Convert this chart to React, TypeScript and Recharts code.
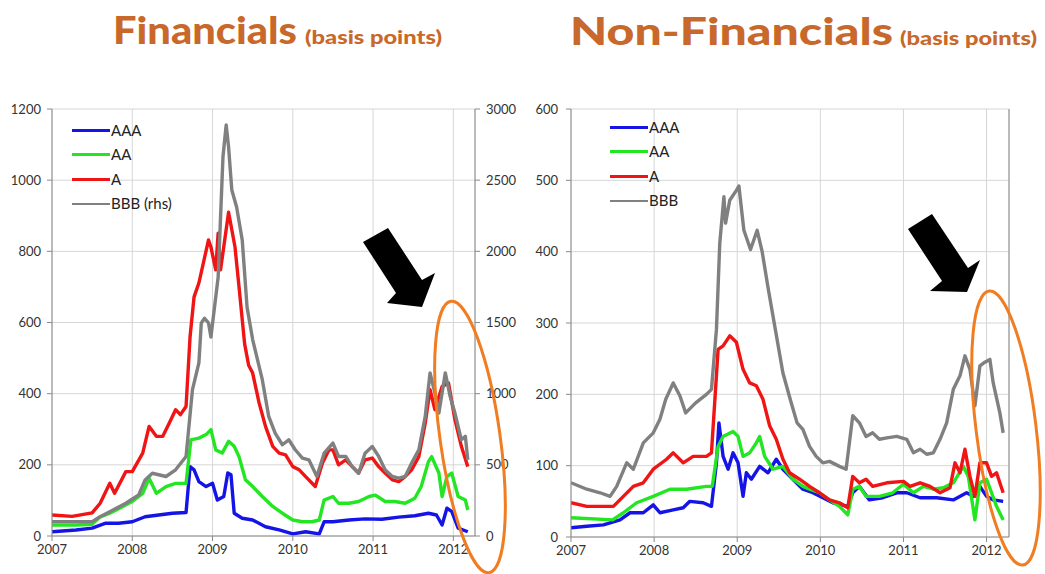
import React from 'react';
import { LineChart, Line, XAxis, YAxis, CartesianGrid, Legend } from 'recharts';

const YEARS = [2007, 2008, 2009, 2010, 2011, 2012];
const X_DOMAIN: [number, number] = [2007, 2012.27];
const FIN_LEFT_TICKS = [0, 200, 400, 600, 800, 1000, 1200];
const FIN_RIGHT_TICKS = [0, 500, 1000, 1500, 2000, 2500, 3000];
const NONFIN_TICKS = [0, 100, 200, 300, 400, 500, 600];

const LEGEND_ORDER = ['AAA', 'AA', 'A', 'BBB (rhs)', 'BBB'];
const COLORS = { AAA: '#1414e6', AA: '#22e622', A: '#f01414', BBB: '#808080' };

// Financials, [year, bp]
const FIN_AAA: [number, number][] = [
  [2007.0, 12], [2007.3, 17], [2007.5, 22], [2007.67, 36], [2007.83, 36], [2008.0, 40], [2008.16, 54],
  [2008.33, 59], [2008.5, 64], [2008.67, 66], [2008.72, 195], [2008.77, 186], [2008.83, 153], [2008.92, 139],
  [2009.0, 148], [2009.06, 101], [2009.14, 111], [2009.19, 177], [2009.23, 172], [2009.27, 64], [2009.37, 50],
  [2009.5, 45], [2009.66, 26], [2009.83, 17], [2010.0, 6], [2010.16, 12], [2010.33, 6], [2010.39, 40],
  [2010.5, 40], [2010.7, 45], [2010.9, 48], [2011.11, 47], [2011.32, 53], [2011.52, 57], [2011.69, 64],
  [2011.79, 59], [2011.86, 31], [2011.92, 78], [2011.98, 69], [2012.06, 22], [2012.18, 12],
];
const FIN_AA: [number, number][] = [
  [2007.0, 31], [2007.3, 31], [2007.5, 33], [2007.6, 54], [2007.72, 64], [2007.84, 78], [2008.0, 97],
  [2008.13, 120], [2008.21, 162], [2008.3, 120], [2008.42, 139], [2008.54, 148], [2008.67, 148], [2008.73, 270],
  [2008.83, 275], [2008.92, 285], [2008.98, 299], [2009.04, 242], [2009.12, 233], [2009.2, 266], [2009.27, 252],
  [2009.33, 223], [2009.41, 158], [2009.5, 139], [2009.62, 111], [2009.75, 83], [2009.87, 64], [2010.0, 45],
  [2010.12, 40], [2010.24, 40], [2010.33, 45], [2010.39, 101], [2010.5, 111], [2010.57, 92], [2010.7, 92],
  [2010.82, 97], [2010.95, 111], [2011.03, 115], [2011.15, 97], [2011.27, 97], [2011.4, 92], [2011.52, 106],
  [2011.6, 139], [2011.69, 209], [2011.73, 223], [2011.82, 177], [2011.86, 111], [2011.92, 167], [2011.98, 177],
  [2012.06, 111], [2012.15, 101], [2012.18, 73],
];
const FIN_A: [number, number][] = [
  [2007.0, 59], [2007.25, 55], [2007.5, 65], [2007.6, 92], [2007.72, 148], [2007.78, 120], [2007.92, 181],
  [2008.0, 181], [2008.13, 233], [2008.21, 308], [2008.3, 280], [2008.38, 280], [2008.46, 317], [2008.54, 355],
  [2008.6, 341], [2008.67, 364], [2008.72, 560], [2008.77, 672], [2008.83, 711], [2008.95, 832], [2008.98, 812],
  [2009.04, 748], [2009.07, 851], [2009.1, 748], [2009.2, 910], [2009.28, 812], [2009.33, 700], [2009.4, 540],
  [2009.45, 480], [2009.5, 458], [2009.58, 374], [2009.66, 308], [2009.75, 252], [2009.83, 233], [2009.91, 228],
  [2010.0, 195], [2010.08, 186], [2010.16, 167], [2010.28, 139], [2010.37, 205], [2010.45, 242], [2010.5, 242],
  [2010.57, 200], [2010.66, 214], [2010.74, 195], [2010.82, 177], [2010.9, 214], [2010.99, 219], [2011.07, 195],
  [2011.15, 177], [2011.24, 158], [2011.32, 153], [2011.4, 167], [2011.48, 186], [2011.57, 223], [2011.65, 317],
  [2011.71, 411], [2011.77, 355], [2011.86, 420], [2011.94, 430], [2012.02, 327], [2012.1, 252], [2012.18, 195],
];
// BBB is read on the right-hand axis (0-3000)
const FIN_BBB: [number, number][] = [
  [2007.0, 101], [2007.5, 101], [2007.6, 136], [2007.76, 183], [2007.92, 230], [2008.08, 289], [2008.16, 394],
  [2008.25, 441], [2008.42, 418], [2008.54, 465], [2008.67, 559], [2008.75, 1028], [2008.83, 1216],
  [2008.86, 1497], [2008.9, 1530], [2008.95, 1497], [2008.98, 1398], [2009.07, 1819], [2009.13, 2663],
  [2009.17, 2888], [2009.2, 2733], [2009.24, 2431], [2009.3, 2312], [2009.37, 2080], [2009.43, 1608],
  [2009.5, 1380], [2009.62, 1098], [2009.7, 840], [2009.78, 723], [2009.87, 641], [2009.95, 676], [2010.03, 606],
  [2010.12, 547], [2010.2, 535], [2010.3, 418], [2010.39, 582], [2010.5, 653], [2010.57, 559], [2010.66, 559],
  [2010.74, 488], [2010.82, 441], [2010.9, 582], [2010.99, 629], [2011.07, 559], [2011.15, 465], [2011.24, 418],
  [2011.32, 406], [2011.4, 418], [2011.48, 512], [2011.57, 606], [2011.65, 840], [2011.71, 1146], [2011.77, 1005],
  [2011.82, 864], [2011.9, 1146], [2011.96, 981], [2012.02, 864], [2012.1, 676], [2012.15, 700], [2012.18, 535],
];

// Non-financials, [year, bp]
const NONFIN_AAA: [number, number][] = [
  [2007.0, 13], [2007.19, 15], [2007.39, 17], [2007.59, 24], [2007.71, 34], [2007.87, 34], [2007.99, 45],
  [2008.07, 34], [2008.23, 38], [2008.35, 41], [2008.43, 50], [2008.59, 48], [2008.69, 43], [2008.75, 104],
  [2008.78, 160], [2008.83, 113], [2008.89, 95], [2008.95, 118], [2009.01, 104], [2009.07, 57], [2009.11, 90],
  [2009.17, 81], [2009.27, 99], [2009.37, 90], [2009.47, 109], [2009.55, 95], [2009.67, 81], [2009.79, 67],
  [2009.91, 62], [2010.03, 55], [2010.15, 48], [2010.33, 43], [2010.39, 62], [2010.47, 71], [2010.59, 52],
  [2010.75, 55], [2010.92, 62], [2011.04, 62], [2011.2, 55], [2011.4, 55], [2011.6, 52], [2011.76, 62],
  [2011.84, 57], [2011.92, 71], [2012.0, 57], [2012.08, 52], [2012.2, 50],
];
const NONFIN_AA: [number, number][] = [
  [2007.0, 27], [2007.5, 24], [2007.63, 34], [2007.79, 48], [2007.99, 57], [2008.19, 67], [2008.39, 67],
  [2008.63, 71], [2008.7, 71], [2008.77, 127], [2008.83, 141], [2008.95, 148], [2009.01, 141], [2009.07, 113],
  [2009.15, 118], [2009.23, 132], [2009.27, 141], [2009.33, 113], [2009.43, 95], [2009.55, 99], [2009.67, 81],
  [2009.79, 71], [2009.87, 67], [2009.99, 62], [2010.11, 52], [2010.23, 43], [2010.33, 31], [2010.39, 67],
  [2010.47, 71], [2010.55, 57], [2010.71, 57], [2010.87, 62], [2011.0, 74], [2011.12, 62], [2011.24, 71],
  [2011.36, 67], [2011.48, 69], [2011.6, 76], [2011.72, 99], [2011.78, 85], [2011.86, 24], [2011.92, 76],
  [2012.0, 81], [2012.06, 62], [2012.12, 43], [2012.2, 24],
];
const NONFIN_A: [number, number][] = [
  [2007.0, 48], [2007.19, 43], [2007.51, 43], [2007.63, 57], [2007.75, 71], [2007.87, 76], [2007.99, 95],
  [2008.15, 109], [2008.23, 118], [2008.35, 104], [2008.47, 113], [2008.63, 113], [2008.69, 118], [2008.77, 263],
  [2008.83, 268], [2008.91, 282], [2008.99, 273], [2009.07, 235], [2009.15, 216], [2009.23, 212], [2009.31, 193],
  [2009.39, 156], [2009.47, 137], [2009.55, 109], [2009.63, 90], [2009.75, 81], [2009.87, 71], [2009.99, 62],
  [2010.11, 52], [2010.23, 48], [2010.33, 41], [2010.39, 85], [2010.47, 76], [2010.55, 81], [2010.63, 71],
  [2010.8, 76], [2011.0, 78], [2011.08, 71], [2011.2, 76], [2011.32, 71], [2011.44, 62], [2011.56, 69],
  [2011.62, 104], [2011.68, 90], [2011.74, 123], [2011.8, 85], [2011.86, 57], [2011.92, 104], [2012.0, 104],
  [2012.06, 85], [2012.12, 90], [2012.2, 62],
];
const NONFIN_BBB: [number, number][] = [
  [2007.0, 76], [2007.19, 67], [2007.35, 62], [2007.47, 57], [2007.55, 71], [2007.67, 104], [2007.75, 95],
  [2007.87, 132], [2007.99, 146], [2008.07, 165], [2008.14, 193], [2008.23, 216], [2008.31, 198], [2008.38, 174],
  [2008.5, 188], [2008.63, 200], [2008.69, 207], [2008.75, 291], [2008.79, 412], [2008.84, 477], [2008.86, 440],
  [2008.91, 472], [2008.99, 486], [2009.02, 492], [2009.08, 430], [2009.16, 403], [2009.24, 430], [2009.3, 400],
  [2009.37, 350], [2009.46, 290], [2009.55, 230], [2009.64, 192], [2009.72, 160], [2009.79, 151], [2009.87, 127],
  [2009.95, 113], [2010.03, 104], [2010.11, 106], [2010.23, 99], [2010.31, 95], [2010.37, 151], [2010.39, 170],
  [2010.47, 160], [2010.55, 141], [2010.63, 146], [2010.71, 137], [2010.8, 139], [2010.92, 141], [2011.04, 137],
  [2011.12, 118], [2011.2, 123], [2011.28, 116], [2011.36, 118], [2011.44, 137], [2011.52, 160], [2011.6, 207],
  [2011.68, 226], [2011.74, 254], [2011.8, 235], [2011.86, 184], [2011.92, 240], [2011.98, 245], [2012.04, 249],
  [2012.08, 216], [2012.16, 174], [2012.2, 146],
];

const toRows = (pts: [number, number][]) => pts.map(([t, v]) => ({ t, v }));

const TITLE_COLOR = '#c8682a';
const tickStyle = { fill: '#333', fontSize: 13 };
const axisLine = { stroke: '#8a8a8a' };

// legend keeps the rating order, not alphabetical
const LegendBox = (props: any) => {
  const items = [...(props.payload || [])].sort(
    (a: any, b: any) => LEGEND_ORDER.indexOf(a.value) - LEGEND_ORDER.indexOf(b.value)
  );
  return (
    <div>
      {items.map((entry: any) => (
        <div key={entry.value} style={{ display: 'flex', alignItems: 'center', height: 24.5 }}>
          <span
            style={{
              display: 'inline-block',
              width: 38,
              borderTop: `${entry.value.startsWith('BBB') ? 2.5 : 3.5}px solid ${entry.color}`,
            }}
          />
          <span style={{ fontSize: 15, color: '#222', marginLeft: 1, lineHeight: '15px' }}>{entry.value}</span>
        </div>
      ))}
    </div>
  );
};

const seriesLine = (data: [number, number][], name: string, color: string, axis: string) => (
  <Line
    key={name}
    data={toRows(data)}
    dataKey="v"
    name={name}
    yAxisId={axis}
    type="linear"
    stroke={color}
    strokeWidth={3.4}
    strokeLinejoin="round"
    dot={false}
    isAnimationActive={false}
  />
);

const App = () => {
  return (
    <div
      style={{
        position: 'absolute',
        left: 0,
        top: 0,
        width: 1045,
        height: 574,
        background: '#fff',
        fontFamily: 'Lato, sans-serif',
        overflow: 'hidden',
      }}
    >
      <div style={{ position: 'absolute', left: 0, top: 0 }}>
        <LineChart width={522} height={574} margin={{ top: 109, right: 0, bottom: 0, left: 0 }}>
          <CartesianGrid yAxisId="left" stroke="#d6d6d6" />
          <XAxis
            type="number"
            dataKey="t"
            domain={X_DOMAIN}
            ticks={YEARS}
            allowDataOverflow
            height={38}
            tick={tickStyle}
            tickSize={5}
            tickMargin={4}
            axisLine={axisLine}
            tickLine={axisLine}
          />
          <YAxis
            yAxisId="left"
            domain={[0, 1200]}
            ticks={FIN_LEFT_TICKS}
            width={52}
            tick={tickStyle}
            tickSize={5}
            tickMargin={6}
            axisLine={axisLine}
            tickLine={axisLine}
          />
          <YAxis
            yAxisId="right"
            orientation="right"
            domain={[0, 3000]}
            ticks={FIN_RIGHT_TICKS}
            width={47}
            tick={tickStyle}
            tickSize={5}
            tickMargin={6}
            axisLine={axisLine}
            tickLine={axisLine}
          />
          {seriesLine(FIN_AAA, 'AAA', COLORS.AAA, 'left')}
          {seriesLine(FIN_AA, 'AA', COLORS.AA, 'left')}
          {seriesLine(FIN_A, 'A', COLORS.A, 'left')}
          {seriesLine(FIN_BBB, 'BBB (rhs)', COLORS.BBB, 'right')}
          <Legend
            layout="horizontal"
            align="center"
            verticalAlign="middle"
            content={LegendBox}
            wrapperStyle={{ left: 72, top: 118, width: 'auto' }}
          />
        </LineChart>
      </div>

      <div style={{ position: 'absolute', left: 522, top: 0 }}>
        <LineChart width={523} height={574} margin={{ top: 109, right: 0, bottom: 0, left: 0 }}>
          <CartesianGrid yAxisId="left" stroke="#d6d6d6" />
          <XAxis
            type="number"
            dataKey="t"
            domain={X_DOMAIN}
            ticks={YEARS}
            allowDataOverflow
            height={37}
            tick={tickStyle}
            tickSize={5}
            tickMargin={4}
            axisLine={axisLine}
            tickLine={axisLine}
          />
          <YAxis
            yAxisId="left"
            domain={[0, 600]}
            ticks={NONFIN_TICKS}
            width={49}
            tick={tickStyle}
            tickSize={5}
            tickMargin={8}
            axisLine={axisLine}
            tickLine={axisLine}
          />
          <YAxis
            yAxisId="right"
            orientation="right"
            domain={[0, 600]}
            ticks={NONFIN_TICKS}
            width={36}
            tick={tickStyle}
            tickSize={5}
            tickMargin={9}
            axisLine={axisLine}
            tickLine={axisLine}
          />
          {seriesLine(NONFIN_AAA, 'AAA', COLORS.AAA, 'left')}
          {seriesLine(NONFIN_AA, 'AA', COLORS.AA, 'left')}
          {seriesLine(NONFIN_A, 'A', COLORS.A, 'left')}
          {seriesLine(NONFIN_BBB, 'BBB', COLORS.BBB, 'left')}
          <Legend
            layout="horizontal"
            align="center"
            verticalAlign="middle"
            content={LegendBox}
            wrapperStyle={{ left: 88, top: 115, width: 'auto' }}
          />
        </LineChart>
      </div>

      {/* titles and the hand-drawn annotations */}
      <svg
        width={1045}
        height={574}
        style={{ position: 'absolute', left: 0, top: 0, pointerEvents: 'none' }}
      >
        <g fill={TITLE_COLOR} fontWeight={900}>
          <text x={113} y={44} fontSize={38} textLength={184} lengthAdjust="spacingAndGlyphs">
            Financials
          </text>
          <text x={305} y={44} fontSize={19} textLength={137} lengthAdjust="spacingAndGlyphs">
            (basis points)
          </text>
          <text x={570} y={45} fontSize={38} textLength={323} lengthAdjust="spacingAndGlyphs">
            Non-Financials
          </text>
          <text x={900} y={45} fontSize={19} textLength={137} lengthAdjust="spacingAndGlyphs">
            (basis points)
          </text>
        </g>
        <polygon points="363,242 388,228 422,280 435,273 422,307 387,303 396,293" fill="#000" />
        <polygon points="908,229 932,214 968,268 980,260 967,292 930,291 942,281" fill="#000" />
        <ellipse cx={470} cy={437} rx={30} ry={137} transform="rotate(-8 470 437)" fill="none" stroke="#f07d22" strokeWidth={3} />
        <ellipse cx={1006} cy={428} rx={30} ry={138} transform="rotate(-7 1006 428)" fill="none" stroke="#f07d22" strokeWidth={3} />
      </svg>
    </div>
  );
};

export default App;
